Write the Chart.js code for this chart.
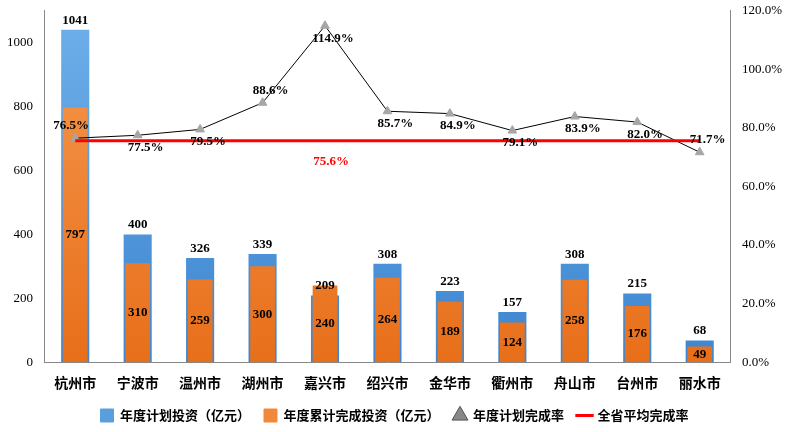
<!DOCTYPE html>
<html><head><meta charset="utf-8">
<script src="https://cdn.jsdelivr.net/npm/chart.js@4/dist/chart.umd.min.js"></script>
<style>body{margin:0;background:#fff}#w{width:799px;height:432px}</style></head>
<body><div id="w"><canvas id="c"></canvas></div>
<script>
const categories=['杭州市','宁波市','温州市','湖州市','嘉兴市','绍兴市','金华市','衢州市','舟山市','台州市','丽水市'];
const planInvest=[1041,400,326,339,209,308,223,157,308,215,68];
const doneInvest=[797,310,259,300,240,264,189,124,258,176,49];
const planRate=[76.5,77.5,79.5,88.6,114.9,85.7,84.9,79.1,83.9,82.0,71.7];
const avgRate=75.6;
const avgLine=categories.map(()=>avgRate);
const ctx=document.getElementById('c').getContext('2d');
function grad(c,a,b){const {chart}=c;const ca=chart.chartArea;if(!ca)return a;const g=chart.ctx.createLinearGradient(0,ca.top,0,ca.bottom);g.addColorStop(0,a);g.addColorStop(1,b);return g;}
const labelPlugin={id:'lbl',afterDatasetsDraw(ch){const c=ch.ctx;c.save();c.font='bold 13px "Liberation Serif", serif';c.textAlign='center';c.fillStyle='#000';
const m0=ch.getDatasetMeta(0).data,m1=ch.getDatasetMeta(1).data,m2=ch.getDatasetMeta(2).data;
planInvest.forEach((v,i)=>{c.textBaseline='bottom';c.fillText(v,m0[i].x,m0[i].y-3);});
doneInvest.forEach((v,i)=>{c.textBaseline='middle';const b=m1[i];c.fillText(v,b.x,(b.y+b.base)/2);});
const above=[0,3,10];
planRate.forEach((v,i)=>{const p=m2[i];const up=above.includes(i);c.textBaseline=up?'bottom':'top';let x=p.x+(i==0?-4:8);c.fillText(v.toFixed(1)+'%',x,up?p.y-6:p.y+6);});
c.fillStyle='#f00';c.textBaseline='top';const p=m2[4];c.fillText(avgRate.toFixed(1)+'%',p.x+6,ch.scales.y1.getPixelForValue(avgRate)+14);
c.restore();}};
new Chart(ctx,{type:'bar',data:{labels:categories,datasets:[
{label:'年度计划投资（亿元）',data:planInvest,yAxisID:'y',backgroundColor:c=>grad(c,'#6fb0ea','#3d85d0'),grouped:false,categoryPercentage:0.9,barPercentage:0.5,order:3},
{label:'年度累计完成投资（亿元）',data:doneInvest,yAxisID:'y',backgroundColor:c=>grad(c,'#f59a50','#e86f1a'),grouped:false,categoryPercentage:0.9,barPercentage:0.44,order:2},
{label:'年度计划完成率',type:'line',data:planRate,yAxisID:'y1',borderColor:'#000',borderWidth:1,pointStyle:'triangle',pointRadius:5,pointBackgroundColor:'#a6a6a6',pointBorderColor:'#a6a6a6',tension:0,order:1},
{label:'全省平均完成率',type:'line',data:avgLine,yAxisID:'y1',borderColor:'#f00',borderWidth:3,pointRadius:0,order:0}
]},options:{responsive:true,maintainAspectRatio:false,animation:false,layout:{padding:{left:4,right:14,top:10,bottom:0}},
plugins:{legend:{position:'bottom',labels:{usePointStyle:true,font:{size:13,weight:'bold',family:'"Noto Sans CJK SC"'},color:'#000',padding:14,
generateLabels(ch){return ch.data.datasets.map((d,i)=>({text:d.label,fillStyle:['#5a9ee0','#f08a3a','#888','#f00'][i],strokeStyle:['#5a9ee0','#f08a3a','#555','#f00'][i],lineWidth:i==3?3:1,datasetIndex:i,pointStyle:i==2?'triangle':(i==3?'line':'rect')}));}}},tooltip:{enabled:false}},
scales:{x:{grid:{display:false},border:{color:'#888'},ticks:{color:'#000',padding:4,font:{size:14,weight:'bold',family:'"Noto Sans CJK SC"'}}},
y:{min:0,max:1100,afterBuildTicks(a){a.ticks=a.ticks.filter(t=>t.value<=1000);},ticks:{stepSize:200,callback:v=>String(v),color:'#000',font:{size:13,family:'"Liberation Serif"'}},grid:{display:false},border:{color:'#888'}},
y1:{position:'right',min:0,max:120,ticks:{stepSize:20,callback:v=>v.toFixed(1)+'%',color:'#000',font:{size:13,family:'"Liberation Serif"'}},grid:{display:false},border:{color:'#888'}}}},
plugins:[labelPlugin]});
</script></body></html>
